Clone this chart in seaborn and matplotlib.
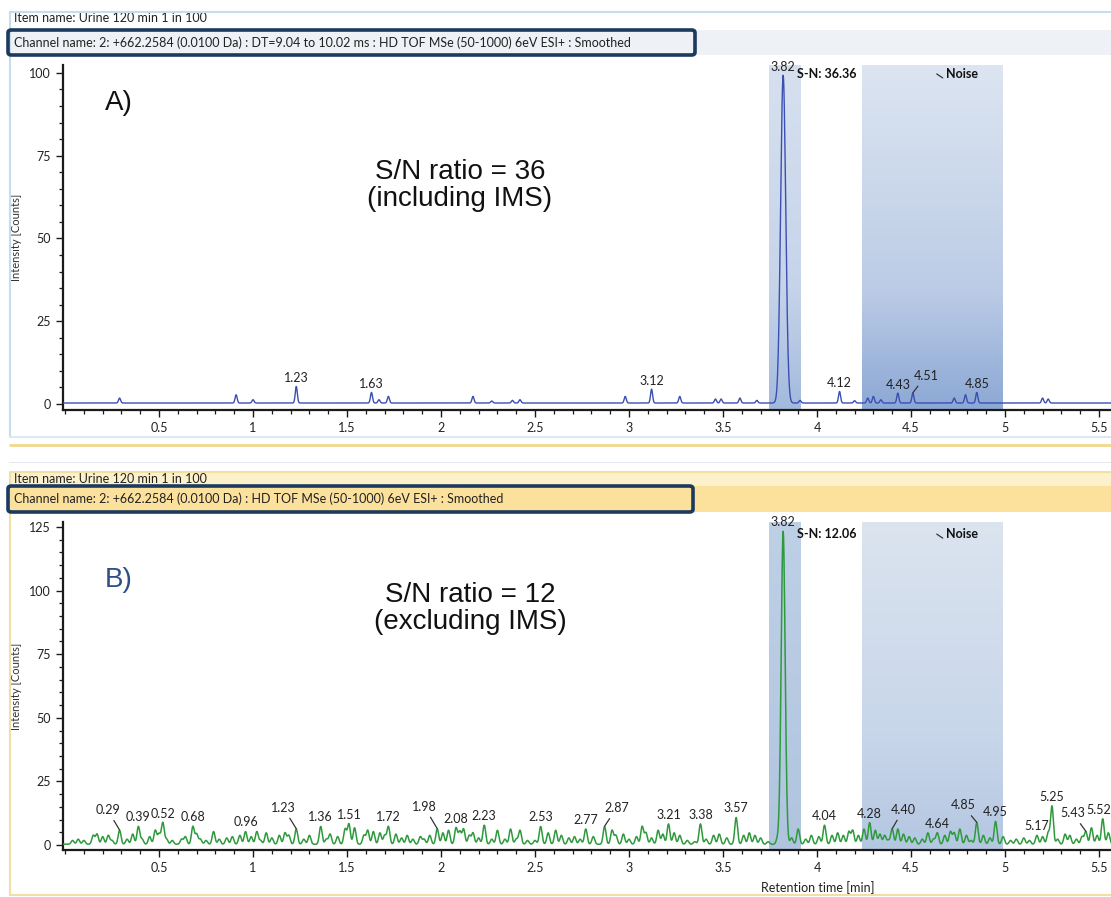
import numpy as np
import pandas as pd
import matplotlib
matplotlib.use("Agg")
import matplotlib.pyplot as plt
import seaborn as sns
from matplotlib.patches import Rectangle, FancyBboxPatch
from matplotlib.lines import Line2D
from matplotlib.colors import LinearSegmentedColormap
from matplotlib.ticker import MultipleLocator, FixedLocator, FuncFormatter

# ---- data (retention time [min], intensity [counts]) ----
A_PEAK_RT = [0.29, 0.91, 1.00, 1.23, 1.63, 1.67, 1.72, 2.17, 2.27, 2.38, 2.42, 2.98, 3.12,
             3.27, 3.46, 3.49, 3.59, 3.68, 3.82, 3.91, 4.12, 4.20, 4.27, 4.30, 4.34, 4.43,
             4.51, 4.73, 4.79, 4.85, 5.20, 5.23]
A_PEAK_H = [1.5, 2.5, 1.0, 5.0, 3.2, 1.0, 2.0, 2.0, 0.6, 0.8, 1.0, 2.0, 4.2,
            2.0, 1.2, 1.2, 1.5, 0.8, 99.0, 0.8, 3.5, 0.7, 1.5, 2.0, 1.0, 3.0,
            3.0, 1.5, 2.5, 3.2, 1.5, 1.2]
A_LABELS = ["1.23", "1.63", "3.12", "3.82", "4.12", "4.43", "4.51", "4.85"]

B_PEAK_RT = [0.04, 0.07, 0.10, 0.15, 0.17, 0.20, 0.23, 0.25, 0.29, 0.33, 0.36, 0.39, 0.41,
             0.45, 0.48, 0.50, 0.52, 0.54, 0.57, 0.62, 0.64, 0.68, 0.70, 0.72, 0.75, 0.79,
             0.82, 0.86, 0.89, 0.93, 0.96, 0.99, 1.02, 1.04, 1.07, 1.10, 1.14, 1.17, 1.19,
             1.23, 1.27, 1.30, 1.36, 1.39, 1.41, 1.45, 1.49, 1.51, 1.54, 1.59, 1.61, 1.64,
             1.675, 1.70, 1.72, 1.76, 1.79, 1.82, 1.85, 1.89, 1.91, 1.94, 1.98, 2.01, 2.04,
             2.08, 2.10, 2.12, 2.15, 2.17, 2.20, 2.23, 2.27, 2.30, 2.34, 2.37, 2.40, 2.42,
             2.46, 2.50, 2.53, 2.57, 2.61, 2.64, 2.68, 2.71, 2.74, 2.77, 2.81, 2.87, 2.91,
             2.93, 2.97, 3.00, 3.04, 3.07, 3.09, 3.12, 3.155, 3.18, 3.21, 3.24, 3.27, 3.31,
             3.35, 3.38, 3.41, 3.45, 3.48, 3.52, 3.57, 3.61, 3.64, 3.67, 3.70, 3.74, 3.79,
             3.82, 3.865, 3.90, 3.94, 3.97, 4.01, 4.04, 4.08, 4.11, 4.14, 4.17, 4.19, 4.22,
             4.25, 4.28, 4.31, 4.335, 4.36, 4.38, 4.40, 4.43, 4.46, 4.49, 4.52, 4.56, 4.59,
             4.62, 4.64, 4.68, 4.71, 4.73, 4.76, 4.795, 4.82, 4.85, 4.885, 4.92, 4.95, 4.99,
             5.03, 5.06, 5.10, 5.13, 5.17, 5.20, 5.23, 5.25, 5.28, 5.32, 5.345, 5.38, 5.41,
             5.43, 5.46, 5.49, 5.52, 5.55]
B_PEAK_H = [1.5, 2.0, 1.5, 3.5, 4.0, 3.0, 3.5, 1.5, 5.5, 2.0, 4.0, 7.0, 2.0,
            3.0, 5.5, 4.0, 8.5, 2.0, 1.5, 2.0, 3.0, 7.0, 4.0, 2.0, 1.5, 5.0,
            2.0, 2.5, 3.0, 3.5, 5.0, 3.0, 5.0, 1.5, 4.5, 2.5, 3.5, 4.5, 3.5,
            6.0, 2.0, 3.5, 7.0, 2.0, 4.0, 3.0, 6.0, 8.0, 6.5, 3.5, 5.5, 5.0,
            4.5, 3.5, 7.0, 4.0, 2.5, 3.5, 2.0, 3.0, 2.0, 3.5, 6.0, 4.5, 5.5,
            6.5, 5.0, 6.0, 3.5, 4.5, 2.5, 7.5, 2.0, 5.5, 2.0, 6.0, 2.0, 5.5,
            1.5, 1.5, 7.0, 4.5, 5.5, 3.5, 2.5, 3.0, 2.0, 6.0, 3.0, 7.0, 5.5,
            3.5, 4.0, 2.0, 3.0, 7.0, 4.5, 2.5, 5.5, 4.0, 8.0, 4.5, 3.5, 1.5,
            1.0, 8.0, 2.0, 3.5, 4.0, 2.5, 10.5, 3.5, 4.5, 3.5, 2.5, 1.0, 2.0,
            123.0, 2.5, 6.0, 2.0, 3.5, 3.0, 7.5, 3.5, 4.5, 3.5, 5.0, 5.5, 3.5,
            6.0, 8.5, 5.5, 4.0, 3.5, 1.5, 6.0, 6.0, 4.0, 3.0, 2.5, 2.0, 4.5,
            2.0, 4.5, 3.5, 5.0, 4.5, 6.0, 3.5, 1.5, 8.5, 3.5, 2.5, 9.0, 3.0,
            1.5, 2.0, 2.5, 1.5, 3.5, 3.0, 4.5, 15.0, 2.0, 4.0, 3.5, 2.0, 3.0,
            5.0, 6.5, 3.5, 10.0, 4.5]
B_LABELS = ["0.29", "0.39", "0.52", "0.68", "0.96", "1.23", "1.36", "1.51", "1.72", "1.98",
            "2.08", "2.23", "2.53", "2.77", "2.87", "3.21", "3.38", "3.57", "3.82", "4.04",
            "4.28", "4.40", "4.64", "4.85", "4.95", "5.17", "5.25", "5.43", "5.52"]

X_TICKS = [0.5, 1, 1.5, 2, 2.5, 3, 3.5, 4, 4.5, 5, 5.5]
SIGNAL_WINDOW = (3.745, 3.91)
NOISE_WINDOW = (4.24, 4.99)
SN_A = "36.36"
SN_B = "12.06"

HEADER_ITEM = "Item name: Urine 120 min 1 in 100"
HEADER_A = ("Channel name: 2: +662.2584 (0.0100 Da) : DT=9.04 to 10.02 ms : "
            "HD TOF MSe (50-1000) 6eV ESI+ : Smoothed")
HEADER_B = "Channel name: 2: +662.2584 (0.0100 Da) : HD TOF MSe (50-1000) 6eV ESI+ : Smoothed"

W, H = 1111, 897

sns.set_theme(style="white")
plt.rcParams["font.family"] = ["Lato", "DejaVu Sans"]

fig = plt.figure(figsize=(W / 100, H / 100), dpi=100)
fig.patch.set_facecolor("white")


def fx(px):
    return px / W


def fy(py):
    return 1 - py / H


def hline(x0, x1, y, color, lw=1.5, z=2):
    fig.add_artist(Line2D([fx(x0), fx(x1)], [fy(y), fy(y)], color=color, lw=lw, zorder=z))


def vline(x, y0, y1, color, lw=1.5, z=2):
    fig.add_artist(Line2D([fx(x), fx(x)], [fy(y0), fy(y1)], color=color, lw=lw, zorder=z))


def rect(x0, y0, x1, y1, color, z=0.5):
    fig.add_artist(Rectangle((fx(x0), fy(y1)), fx(x1) - fx(x0), fy(y0) - fy(y1),
                             transform=fig.transFigure, facecolor=color, edgecolor="none", zorder=z))


def header(y_top, y_item, y_chan0, y_chan1, box_x1, chan_text, item_bg, chan_bg, frame_col, frame_bottom):
    rect(10, y_top, W, y_chan0, item_bg)
    rect(10, y_chan0, W, y_chan1, chan_bg)
    fig.text(fx(14), fy(y_item), HEADER_ITEM, fontsize=9, color="#222", va="center", zorder=3)
    # the screenshot cuts the top of the item line
    rect(0, y_top - 9, W, y_top, "white", z=4)
    hline(10, W, y_top, frame_col, lw=1.5, z=5)
    vline(10, y_top, frame_bottom, frame_col)
    fig.text(fx(14), fy((y_chan0 + y_chan1) / 2), chan_text, fontsize=9, color="#222",
             va="center", zorder=3)
    fig.add_artist(FancyBboxPatch((fx(8), fy(y_chan1)), fx(box_x1) - fx(8), fy(y_chan0) - fy(y_chan1),
                                  boxstyle="round,pad=0,rounding_size=0.003",
                                  transform=fig.transFigure, fill=False,
                                  edgecolor="#1c3a5e", lw=2.6, zorder=6))


# panel frames / headers
header(12, 18, 30, 55, 695, HEADER_A, "white", "#eef2f6", "#c9dce9", 437)
hline(10, W, 437, "#dfe8ee")
hline(10, W, 445, "#f2d98a", lw=2)
hline(10, W, 463, "#e3e8ee")
header(472, 479, 486, 512, 693, HEADER_B, "#fdf1cc", "#fbe19c", "#efe0a6", 895)
hline(10, W, 895, "#efe0a6")

t = np.arange(-0.02, 5.6, 0.002)


def trace(rts, heights, sigma, sigma_main):
    y = np.full_like(t, 0.3)
    for rt, h in zip(rts, heights):
        s = sigma_main if h > 50 else sigma
        y += h * np.exp(-0.5 * ((t - rt) / s) ** 2)
    return y


def gradient(ax, x0, x1, ylo, yhi, cols):
    cmap = LinearSegmentedColormap.from_list("g", list(zip([0, 0.35, 1], cols)))
    ax.imshow(np.linspace(0, 1, 128).reshape(-1, 1), extent=[x0, x1, ylo, yhi], origin="lower",
              aspect="auto", cmap=cmap, zorder=0, interpolation="bicubic")


def panel(ax, rts, heights, labels, leaders, color, lw, sigma, sigma_main, ylim, ymax_tick, pad,
          sig_cols, noise_cols, sn, sn_y):
    df = pd.DataFrame({"rt": t, "intensity": trace(rts, heights, sigma, sigma_main)})
    xlim = (-0.011, 5.564)
    gradient(ax, *SIGNAL_WINDOW, *ylim, sig_cols)
    gradient(ax, *NOISE_WINDOW, *ylim, noise_cols)
    sns.lineplot(data=df, x="rt", y="intensity", ax=ax, color=color, lw=lw,
                 estimator=None, sort=False, zorder=3)
    ax.set_xlim(*xlim)
    ax.set_ylim(*ylim)
    ax.set_facecolor("none")
    sns.despine(ax=ax)
    for sp in ("left", "bottom"):
        ax.spines[sp].set_color("#1a1a1a")
        ax.spines[sp].set_linewidth(1.6)
    ax.xaxis.set_major_locator(FixedLocator(X_TICKS))
    ax.xaxis.set_minor_locator(MultipleLocator(0.1))
    ax.xaxis.set_major_formatter(FuncFormatter(lambda v, p: f"{v:g}"))
    ax.yaxis.set_minor_locator(MultipleLocator(5))
    ax.set_yticks(np.arange(0, ymax_tick + 1, 25))
    ax.tick_params(which="both", bottom=True, left=True, direction="out", colors="#1a1a1a",
                   labelsize=9, labelcolor="#222")
    ax.tick_params(which="major", length=5, width=1)
    ax.tick_params(which="minor", length=3, width=0.9)
    ax.set_ylabel("Intensity [Counts]", fontsize=8, color="#333")
    ax.yaxis.set_label_coords(-0.039, 0.5)
    ax.set_xlabel("")

    rts_arr = np.array(rts)
    for s in labels:
        h = heights[int(np.argmin(np.abs(rts_arr - float(s))))]
        if s in leaders:
            off, line = leaders[s]
            ax.annotate(s, xy=(float(s), h + (0.4 if line else pad)), xytext=off,
                        textcoords="offset pixels", ha="center", va="bottom", fontsize=9,
                        color="#222", zorder=5,
                        arrowprops=dict(arrowstyle="-", lw=0.9, color="#333", shrinkA=1, shrinkB=0)
                        if line else None)
        else:
            ax.annotate(s, xy=(float(s), h + pad), ha="center", va="bottom", fontsize=9,
                        color="#222", zorder=5)

    ax.text(3.894, sn_y, f"S-N: {sn}", fontsize=9, fontweight="bold", color="#111",
            ha="left", va="center", zorder=5)
    ax.annotate("Noise", xy=(4.637, sn_y), xytext=(9, 0), textcoords="offset pixels",
                ha="left", va="center", fontsize=9, fontweight="bold", color="#111", zorder=5)
    ax.annotate("", xy=(4.637, sn_y), xytext=(6, -4), textcoords="offset pixels",
                xycoords="data", zorder=5,
                arrowprops=dict(arrowstyle="-", lw=0.9, color="#333", shrinkA=0, shrinkB=0,
                                relpos=(0, 0)))


# panel A: with ion mobility separation
axA = fig.add_axes([fx(63), fy(410), 1 - fx(63), (410 - 65) / H])
panel(axA, A_PEAK_RT, A_PEAK_H, A_LABELS, {"4.51": ((13, 11), True)}, "#3b4fb2", 1.0,
      0.0055, 0.0135, (-1.81, 102.4), 100, 1.0,
      ("#a3badd", "#c6d4ea", "#d6e0ef"), ("#8ca8d5", "#bccce6", "#dce5f1"), SN_A, 99.7)
axA.text(0.213, 91, "A)", fontsize=20, family="Liberation Sans", color="#111",
         ha="left", va="center")
axA.text(2.10, 66, "S/N ratio = 36\n(including IMS)", fontsize=20, family="Liberation Sans",
         color="#111", ha="center", va="center", linespacing=1.05)

# panel B: without ion mobility separation
axB = fig.add_axes([fx(63), fy(850), 1 - fx(63), (850 - 522) / H])
b_leaders = {"0.29": ((-12, 14), True), "1.23": ((-13, 15), True), "1.98": ((-13, 16), True),
             "2.87": ((12, 12), True), "4.40": ((11, 13), True), "4.85": ((-14, 11), True),
             "5.43": ((-13, 12), True), "5.52": ((-4, 0), False)}
panel(axB, B_PEAK_RT, B_PEAK_H, B_LABELS, b_leaders, "#2e9a3d", 1.1,
      0.0075, 0.0105, (-1.96, 126.96), 125, 1.5,
      ("#b0c4df", "#b6c9e2", "#bed0e6"), ("#b4c7e1", "#c8d6ea", "#dbe4ef"), SN_B, 122.2)
axB.text(0.213, 104, "B)", fontsize=20, family="Liberation Sans", color="#2c4f86",
         ha="left", va="center")
axB.text(2.154, 93, "S/N ratio = 12\n(excluding IMS)", fontsize=20, family="Liberation Sans",
         color="#111", ha="center", va="center", linespacing=1.05)
axB.set_xlabel("Retention time [min]", fontsize=9, color="#222")
axB.xaxis.set_label_coords(0.72, -0.116)
axB.xaxis.label.set_va("center")

fig.savefig("out.png", dpi=100)
